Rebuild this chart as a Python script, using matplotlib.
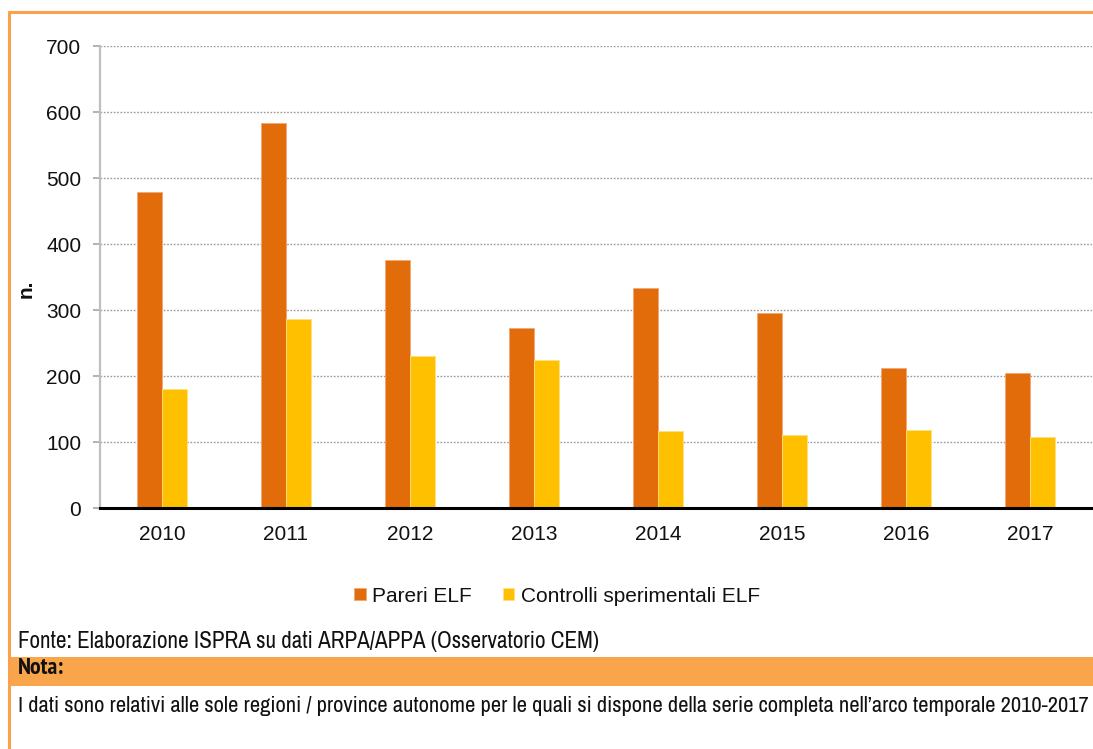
import matplotlib
matplotlib.use("Agg")
import matplotlib.pyplot as plt
import numpy as np
from matplotlib.lines import Line2D
from matplotlib.patches import Rectangle
from matplotlib import font_manager

years = ["2010", "2011", "2012", "2013", "2014", "2015", "2016", "2017"]
pareri = [479, 583, 376, 272, 333, 296, 212, 205]
controlli = [181, 286, 230, 224, 117, 111, 118, 108]
series_names = ["Pareri ELF", "Controlli sperimentali ELF"]
yticks = [0, 100, 200, 300, 400, 500, 600, 700]

fonte = "Fonte: Elaborazione ISPRA su dati ARPA/APPA (Osservatorio CEM)"
nota_title = "Nota:"
nota_text = ("I dati sono relativi alle sole regioni / province autonome per le quali si dispone "
             "della serie completa nell\u2019arco temporale 2010-2017")

W, H = 1093, 749
plt.rcParams['font.family'] = ['Liberation Sans', 'DejaVu Sans']


def _w(v):
    try:
        return int(v)
    except Exception:
        return {"bold": 700, "heavy": 800, "black": 900, "semibold": 600, "demibold": 600}.get(str(v), 400)


regular_names = set()
bold_names = set()
for f in font_manager.fontManager.ttflist:
    if f.style != "normal":
        continue
    if _w(f.weight) >= 700:
        bold_names.add(f.name)
    if 350 <= _w(f.weight) <= 450:
        regular_names.add(f.name)

cands = ['Liberation Sans Narrow', 'Arial Narrow', 'Archivo Narrow', 'PT Sans Narrow',
         'Roboto Condensed', 'IBM Plex Sans Condensed', 'Fira Sans Condensed',
         'Open Sans Condensed', 'Encode Sans Condensed', 'Barlow Semi Condensed']
narrow = 'Liberation Sans'
for cand in cands:
    if cand in regular_names:
        narrow = cand
        break
narrow_bold = narrow
if narrow not in bold_names:
    for cand in cands:
        if cand in bold_names:
            narrow_bold = cand
            break

ORANGE = "#E36C0A"
YELLOW = "#FFC000"
BORDER = "#F8A24C"

fig = plt.figure(figsize=(W / 100, H / 100), dpi=100)
fig.patch.set_facecolor("white")


def fx(px):
    return px / W


def fy(py):
    return 1 - py / H


ax_left, ax_right, ax_top, ax_bot = 100, 1092, 46, 508
ax = fig.add_axes([fx(ax_left), fy(ax_bot), fx(ax_right - ax_left), (ax_bot - ax_top) / H])

x = np.arange(len(years))
bw = 0.2
ax.bar(x - bw / 2, pareri, width=bw, color=ORANGE, edgecolor="#F0A878", linewidth=0.6,
       label=series_names[0], zorder=3)
ax.bar(x + bw / 2, controlli, width=bw, color=YELLOW, edgecolor="#FFE080", linewidth=0.6,
       label=series_names[1], zorder=3)

ax.set_xlim(-0.5, len(years) - 0.5)
ax.set_ylim(0, 700)
ax.set_yticks(yticks)
ax.set_yticklabels([str(v) for v in yticks], fontsize=15, color="#111111")
ax.set_xticks(x)
ax.set_xticklabels(years, fontsize=15, color="#111111")
ax.tick_params(axis="x", length=0, pad=12.5)
ax.tick_params(axis="y", length=5, width=1.2, color="#A6A6A6", pad=8.5)

ax.yaxis.grid(True, linestyle=(0, (1.2, 1.2)), color="#9A9A9A", linewidth=1.0, zorder=0)
ax.set_axisbelow(True)
for s in ["top", "right"]:
    ax.spines[s].set_visible(False)
ax.spines["left"].set_color("#BFBFBF")
ax.spines["left"].set_linewidth(1.6)
ax.spines["bottom"].set_color("black")
ax.spines["bottom"].set_linewidth(2.2)
ax.spines["bottom"].set_zorder(5)

fig.text(fx(26), fy(289), "n.", rotation=90, fontsize=15, fontweight="bold",
         ha="center", va="center", color="#111111")

handles, labels = ax.get_legend_handles_labels()
leg = fig.legend(handles, labels, loc="center", bbox_to_anchor=(fx(557), fy(596)),
                 ncol=2, frameon=False, fontsize=15, handlelength=0.55, handleheight=0.55,
                 handletextpad=0.3, columnspacing=1.5, borderaxespad=0)
for t in leg.get_texts():
    t.set_color("#111111")

# Nota band
fig.add_artist(Rectangle((fx(10), fy(686)), fx(W - 10), (686 - 657) / H,
                         transform=fig.transFigure, facecolor="#F8A54C", edgecolor="none", zorder=1))

t_fonte = fig.text(fx(18), fy(641), fonte, fontsize=16, family=narrow, ha="left", va="center",
                   color="#111111")
t_nota = fig.text(fx(18), fy(669), nota_title, fontsize=16, family=narrow_bold, fontweight="bold",
                  ha="left", va="center", color="#111111", zorder=2)
t_text = fig.text(fx(18), fy(706), nota_text, fontsize=16, family=narrow, ha="left", va="center",
                  color="#111111")

# fit the lines to their widths in the reference
renderer = fig.canvas.get_renderer()
wid = t_fonte.get_window_extent(renderer).width
fs = min(16 * 582 / wid, 17)
t_fonte.set_fontsize(fs)
wid_n = t_nota.get_window_extent(renderer).width
t_nota.set_fontsize(min(16 * 46 / wid_n, 18))
wid2 = t_text.get_window_extent(renderer).width
fs2 = min(16 * 1072 / wid2, fs)
t_text.set_fontsize(fs2)

# Outer border (left and top)
fig.add_artist(Line2D([fx(8.5), fx(8.5)], [fy(11), 0], transform=fig.transFigure,
                      color=BORDER, linewidth=2.2, solid_capstyle="butt"))
fig.add_artist(Line2D([fx(7.5), 1], [fy(11.5), fy(11.5)], transform=fig.transFigure,
                      color=BORDER, linewidth=2.2, solid_capstyle="butt"))

fig.savefig("out.png", dpi=100, facecolor="white")
